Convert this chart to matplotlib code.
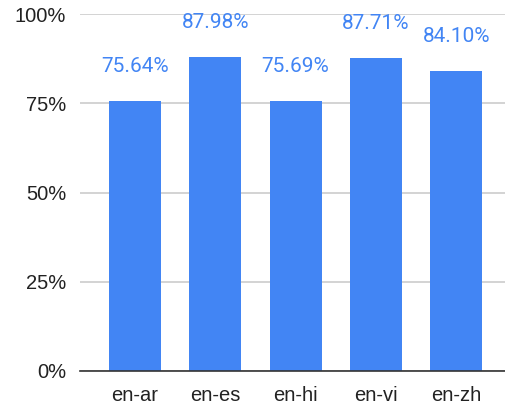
import matplotlib.pyplot as plt

pairs = ['en-ar', 'en-es', 'en-hi', 'en-vi', 'en-zh']
scores = [75.64, 87.98, 75.69, 87.71, 84.10]
yticks = [0, 25, 50, 75, 100]

blue = '#4285F4'

plt.rcParams['font.family'] = ['Liberation Sans', 'DejaVu Sans']

fig = plt.figure(figsize=(5.06, 4.05), dpi=100)
ax = fig.add_axes([80 / 506, 34 / 405, 426 / 506, 357 / 405])

x = range(len(pairs))
bars = ax.bar(x, scores, width=0.65, color=blue, zorder=3)

for xi, v in zip(x, scores):
    ax.annotate(f'{v:.2f}%', (xi, v), xytext=(0, 24.5), textcoords='offset points',
                ha='center', va='center', color=blue, fontsize=15,
                family=['Roboto', 'DejaVu Sans'])

ax.set_xlim(-0.685, 4.62)
ax.set_ylim(0, 100)
ax.set_yticks(yticks)
ax.set_yticklabels([f'{t}%' for t in yticks])
ax.set_xticks(list(x))
ax.set_xticklabels(pairs)
ax.tick_params(axis='both', length=0, labelsize=14.5, colors='#222222')
ax.tick_params(axis='y', pad=10)
ax.tick_params(axis='x', pad=11)
ax.yaxis.grid(True, color='#cccccc', linewidth=1.2, zorder=0)
for s in ['top', 'right', 'left']:
    ax.spines[s].set_visible(False)
ax.spines['bottom'].set_color('#333333')
ax.spines['bottom'].set_linewidth(1.2)
ax.spines['bottom'].set_zorder(4)

plt.savefig('out.png', dpi=100)
